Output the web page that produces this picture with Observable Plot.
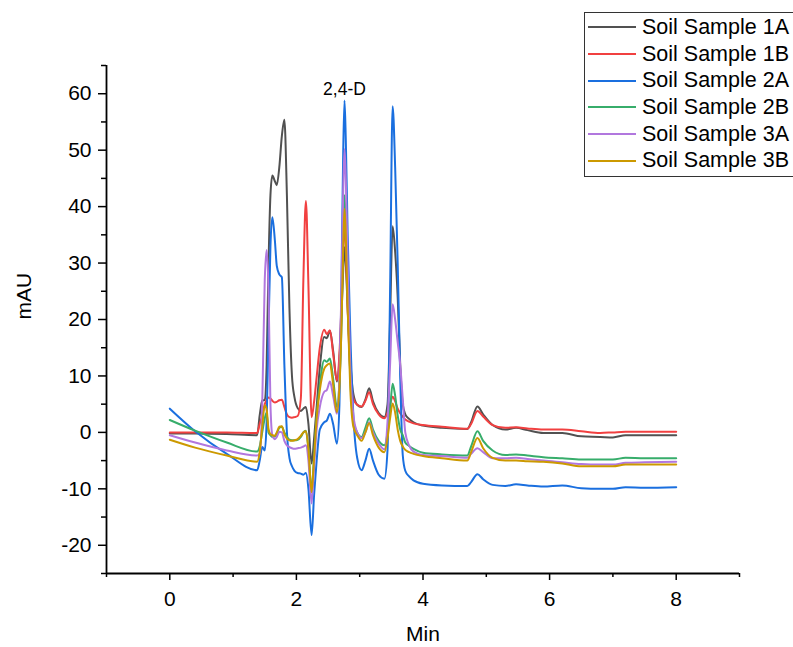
<!DOCTYPE html>
<html>
<head>
<meta charset="utf-8">
<script src="https://cdn.jsdelivr.net/npm/d3@7"></script>
<script src="https://cdn.jsdelivr.net/npm/@observablehq/plot@0.6"></script>
<style>
  html, body { margin: 0; padding: 0; background: #fff; }
  #wrap { position: relative; width: 793px; height: 647px; overflow: hidden; font-family: "Liberation Sans", Arial, sans-serif; }
  #legend { position: absolute; left: 584px; top: 12px; width: 230px; border: 1px solid #333; background: #fff; padding: 1px 0 2px 0; }
  .row { display: flex; align-items: center; height: 26.7px; font-size: 21.5px; color: #000; }
  .row svg { margin-left: 3px; margin-right: 6px; }
</style>
</head>
<body>
<div id="wrap"><div id="chart"></div><div id="legend"></div></div>
<script>
// Retention time (min)
const times = [0, 0.4, 0.9, 1.38, 1.42, 1.46, 1.50, 1.53, 1.56, 1.59,
  1.62, 1.66, 1.69, 1.73, 1.77, 1.81, 1.85, 1.89, 1.93, 1.97,
  2.02, 2.07, 2.11, 2.15, 2.19, 2.24, 2.28, 2.32, 2.37, 2.44,
  2.48, 2.53, 2.58, 2.64, 2.68, 2.71, 2.74, 2.76, 2.78, 2.81,
  2.85, 2.9, 2.96, 3.03, 3.09, 3.15, 3.21, 3.3, 3.39, 3.44,
  3.48, 3.52, 3.56, 3.60, 3.64, 3.68, 3.72, 3.78, 3.85, 4.0,
  4.3, 4.7, 4.76, 4.86, 4.95, 5.1, 5.3, 5.47, 5.65, 5.9,
  6.2, 6.5, 6.8, 7.0, 7.2, 7.5, 8.0];

// Absorbance (mAU) per sample
const sample1A = [-0.2, -0.2, -0.3, -0.5, 3.0, 5.6, 5.8, 12, 30, 42,
  45.5, 44.5, 43.8, 47, 52.5, 55.4, 42, 22, 10, 6.2,
  4.3, 3.8, 4.2, 4.5, 1.5, -5.5, -1, 4.5, 11.5, 16.9,
  16.7, 18.0, 14.5, 9.0, 13, 20, 29, 32.8, 30, 22,
  13, 6.8, 4.9, 4.5, 5.8, 7.8, 5.5, 3.4, 2.7, 5,
  20, 36.5, 32, 24, 12, 5, 3.2, 2.4, 1.8, 1.2,
  0.8, 0.6, 1.8, 4.6, 3.2, 1.3, 0.5, 0.8, 0.4, -0.1,
  -0.1, -0.7, -0.8, -0.9, -0.5, -0.5, -0.5];
const sample1B = [0, 0, 0, -0.1, 1.5, 3, 5, 5.8, 6.2, 6.0,
  5.6, 5.3, 5.4, 5.7, 5.8, 4.5, 3.2, 2.7, 2.6, 2.7,
  2.9, 6, 27, 41, 26, 2.7, 5.5, 9.8, 15, 18.2,
  17.4, 18.1, 14, 9.2, 14, 22, 33, 37, 33, 22,
  11, 6, 4.9, 4.6, 5.6, 7.1, 5, 3.2, 2.5, 3.5,
  5, 6.3, 5.5, 4.2, 3.4, 2.8, 2.3, 1.9, 1.6, 1.3,
  1.0, 0.65, 1.5, 3.8, 2.8, 1.3, 0.8, 0.9, 0.7, 0.5,
  0.5, 0.2, -0.1, 0, 0.1, 0.1, 0.1];
const sample2A = [4.2, 0.2, -3.8, -6.7, -5, -2.6, -3.2, 2, 18, 33,
  38.1, 34, 29.5, 28, 27.5, 12, 0, -4.5, -6, -6.8,
  -7.2, -7.3, -7.5, -7.2, -10, -18.2, -11, -5, 0.5, 1.8,
  2.1, 3.3, 1.5, -2, 5, 25, 50, 58.8, 52, 35,
  18, 3, -4.5, -6.7, -5, -2.9, -5, -7.5, -8.2, -3,
  25, 57.8, 47, 30, 10, -4, -6.8, -7.8, -8.5, -9.1,
  -9.4, -9.5, -8.8, -7.4, -8.3, -9.3, -9.5, -9.2, -9.4, -9.6,
  -9.4, -9.9, -10, -10, -9.7, -9.8, -9.7];
const sample2B = [2.2, 0.3, -1.8, -3.4, -2.5, 0, 2.5, 3.5, 0, -0.5,
  -0.8, -0.7, -0.2, 0.8, 1.0, 0, -0.8, -1.3, -1.4, -1.4,
  -1.3, -0.8, 0, 0.3, -3, -10.3, -4, 3, 8.5, 12.8,
  12.5, 13.1, 9.5, 4.5, 9, 18, 35, 42, 37, 24,
  10, 2, 0, -0.8, 0.8, 2.5, 0.5, -1.5, -2.3, 0,
  4, 8.6, 6.5, 3, 0.5, -0.5, -1.8, -2.4, -2.9, -3.6,
  -3.9, -4.1, -2.5, 0.2, -1.5, -3.2, -4, -3.9, -4.1, -4.4,
  -4.6, -4.8, -4.8, -4.8, -4.5, -4.6, -4.6];
const sample3A = [-0.5, -1.8, -3.2, -4.1, -3.8, 5, 27, 32.3, 25, 5,
  -0.5, -1.2, -0.8, 0.1, 0, -1.5, -2.3, -2.6, -2.8, -2.9,
  -2.8, -2.7, -2.5, -2.3, -5, -12.6, -6, 0.5, 4.5, 7.2,
  7.5, 9.0, 6.5, 3.3, 10, 25, 43, 50.2, 45, 30,
  12, 3, 0, -1, 0, 1.8, 0, -2, -3, 2,
  12, 22.7, 20, 16, 12, 6, 0, -2.3, -3.4, -4.0,
  -4.2, -4.5, -3.8, -2.8, -3.5, -4.6, -4.6, -4.5, -4.7, -5.0,
  -5.3, -5.6, -5.7, -5.7, -5.4, -5.3, -5.2];
const sample3B = [-1.3, -2.7, -4.1, -5.2, -3.5, 1, 4.8, 4.0, 0.5, -0.3,
  -0.5, -0.6, 0, 1.0, 1.1, -0.3, -1.1, -1.4, -1.5, -1.4,
  -1.2, -0.6, 0, 0.2, -3, -10.6, -4.5, 2.5, 7.5, 11.3,
  11.9, 12.2, 8.5, 3.6, 8, 18, 33, 39.6, 35, 22,
  8, 1, -0.5, -1.5, 0, 1.6, -0.5, -2.7, -3.5, -1,
  2.5, 5.1, 3.5, 0.5, -1.5, -2.5, -3.1, -3.5, -3.8, -4.2,
  -4.6, -5.0, -3.5, -1.0, -2.8, -4.5, -5.0, -5.0, -5.1, -5.2,
  -5.5, -6.0, -6.0, -6.0, -5.7, -5.7, -5.7];

const seriesNames = ["Soil Sample 1A", "Soil Sample 1B", "Soil Sample 2A", "Soil Sample 2B", "Soil Sample 3A", "Soil Sample 3B"];
const seriesColors = ["#515151", "#F14040", "#1A6FDF", "#37AD6B", "#B177DE", "#CC9900"];
const seriesValues = [sample1A, sample1B, sample2A, sample2B, sample3A, sample3B];

const xDomain = [-1, 9];
const yDomain = [-25, 65];
const xMajorTicks = [0, 2, 4, 6, 8];
const xMinorTicks = [-1, 1, 3, 5, 7, 9];
const yMajorTicks = [-20, -10, 0, 10, 20, 30, 40, 50, 60];
const yMinorTicks = [-25, -15, -5, 5, 15, 25, 35, 45, 55, 65];
const xLabel = "Min";
const yLabel = "mAU";
const peakLabel = "2,4-D";
const peakSeries = 2;   // labelled on Soil Sample 2A
const peakIndex = 37;   // retention time 2.76 min

const rows = seriesNames.flatMap((name, i) => times.map((t, j) => ({t, v: seriesValues[i][j], name})));
const annotation = [{t: times[peakIndex], v: seriesValues[peakSeries][peakIndex], label: peakLabel}];

const font = "'Liberation Sans', Arial, sans-serif";
const chart = Plot.plot({
  width: 793,
  height: 647,
  marginLeft: 106,
  marginRight: 54,
  marginTop: 65,
  marginBottom: 74,
  style: {fontFamily: font, fontSize: "21px", color: "#000", background: "#fff", overflow: "visible"},
  x: {domain: xDomain, label: null},
  y: {domain: yDomain, label: null},
  color: {domain: seriesNames, range: seriesColors},
  marks: [
    Plot.axisX({ticks: xMinorTicks, tickSize: 4, tickFormat: () => "", label: null, strokeWidth: 1.5}),
    Plot.axisX({ticks: xMajorTicks, tickSize: 7, tickPadding: 11, tickFormat: d => String(d), label: null, strokeWidth: 1.5, fontSize: 21}),
    Plot.axisY({ticks: yMinorTicks, tickSize: 5, tickFormat: () => "", label: null, strokeWidth: 1.5}),
    Plot.axisY({ticks: yMajorTicks, tickSize: 8, tickPadding: 7, tickFormat: d => String(d), label: null, strokeWidth: 1.5, fontSize: 21}),
    Plot.ruleX([xDomain[0]], {stroke: "#000", strokeWidth: 1.8}),
    Plot.ruleY([yDomain[0]], {stroke: "#000", strokeWidth: 1.8}),
    Plot.line(rows, {x: "t", y: "v", z: "name", stroke: "name", strokeWidth: 2, curve: "monotone-x"}),
    Plot.text(annotation, {x: "t", y: "v", text: "label", dy: -11, fontSize: 17.5, fill: "#000"}),
    Plot.text([xLabel], {frameAnchor: "bottom", dy: 67, fontSize: 21, fill: "#000"}),
    Plot.text([yLabel], {frameAnchor: "left", dx: -82, rotate: -90, fontSize: 21, fill: "#000"})
  ]
});
document.getElementById("chart").append(chart);

const legend = d3.select("#legend");
seriesNames.forEach((name, i) => {
  const row = legend.append("div").attr("class", "row");
  const sw = row.append("svg").attr("width", 48).attr("height", 10);
  sw.append("line").attr("x1", 0).attr("x2", 48).attr("y1", 5).attr("y2", 5)
    .attr("stroke", seriesColors[i]).attr("stroke-width", 2);
  row.append("span").text(name);
});
</script>
</body>
</html>
